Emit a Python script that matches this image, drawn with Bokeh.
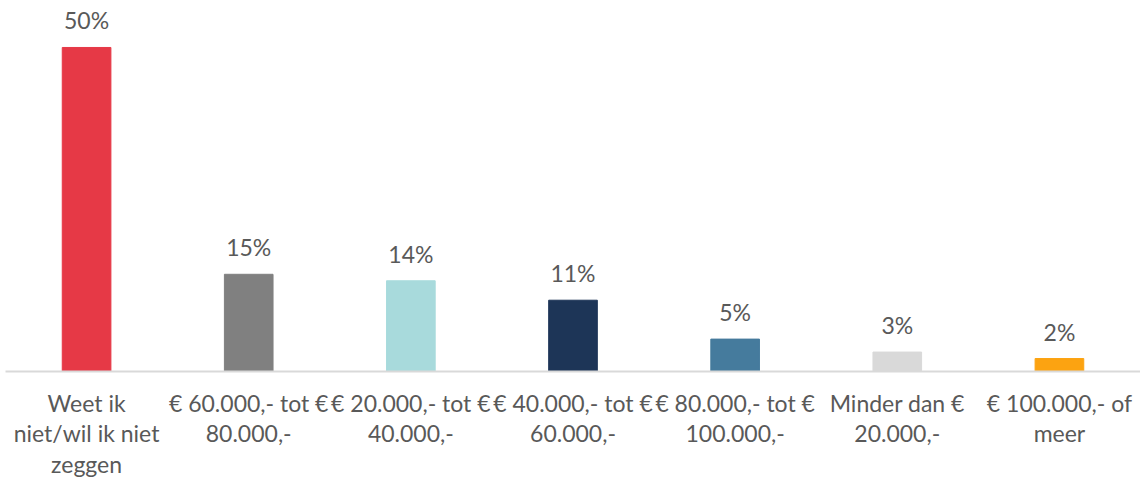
from bokeh.plotting import figure
from bokeh.models import ColumnDataSource
from bokeh.embed import file_html
from bokeh.resources import INLINE
from bokeh.core.properties import value

categories = [
    "Weet ik\nniet/wil ik niet\nzeggen",
    "€ 60.000,- tot €\n80.000,-",
    "€ 20.000,- tot €\n40.000,-",
    "€ 40.000,- tot €\n60.000,-",
    "€ 80.000,- tot €\n100.000,-",
    "Minder dan €\n20.000,-",
    "€ 100.000,- of\nmeer",
]
values = [50, 15, 14, 11, 5, 3, 2]
colors = ["#E63946", "#808080", "#A8DADC", "#1D3557", "#457B9D", "#D9D9D9", "#FCA311"]
labels = [f"{v}%" for v in values]

src = ColumnDataSource(dict(cat=categories, val=values, col=colors, lab=labels))

FONT = "Lato"
TXT = "#595959"

p = figure(x_range=categories, y_range=(0, 57.25), width=1140, height=482,
           frame_width=1135, frame_height=371,
           output_backend="svg", toolbar_location=None,
           min_border_left=5, min_border_right=0, min_border_top=0, min_border_bottom=111)
p.x_range.range_padding = 0
p.vbar(x="cat", top="val", width=0.30, color="col", source=src)
p.text(x="cat", y="val", text="lab", source=src, text_align="center", text_baseline="bottom",
       y_offset=-13, text_font=value(FONT), text_font_size="23px", text_color=TXT)

p.outline_line_color = None
p.grid.grid_line_color = None
p.yaxis.visible = False
p.xaxis.axis_line_color = "#D9D9D9"
p.xaxis.axis_line_width = 2
p.xaxis.major_tick_line_color = None
p.xaxis.minor_tick_line_color = None
p.xaxis.major_label_text_font = FONT
p.xaxis.major_label_text_font_size = "23px"
p.xaxis.major_label_text_color = TXT
p.xaxis.major_label_text_line_height = 1.1
p.xaxis.major_label_standoff = 11
p.background_fill_color = "white"
p.border_fill_color = "white"

open("out.html", "w").write(file_html(p, INLINE))
